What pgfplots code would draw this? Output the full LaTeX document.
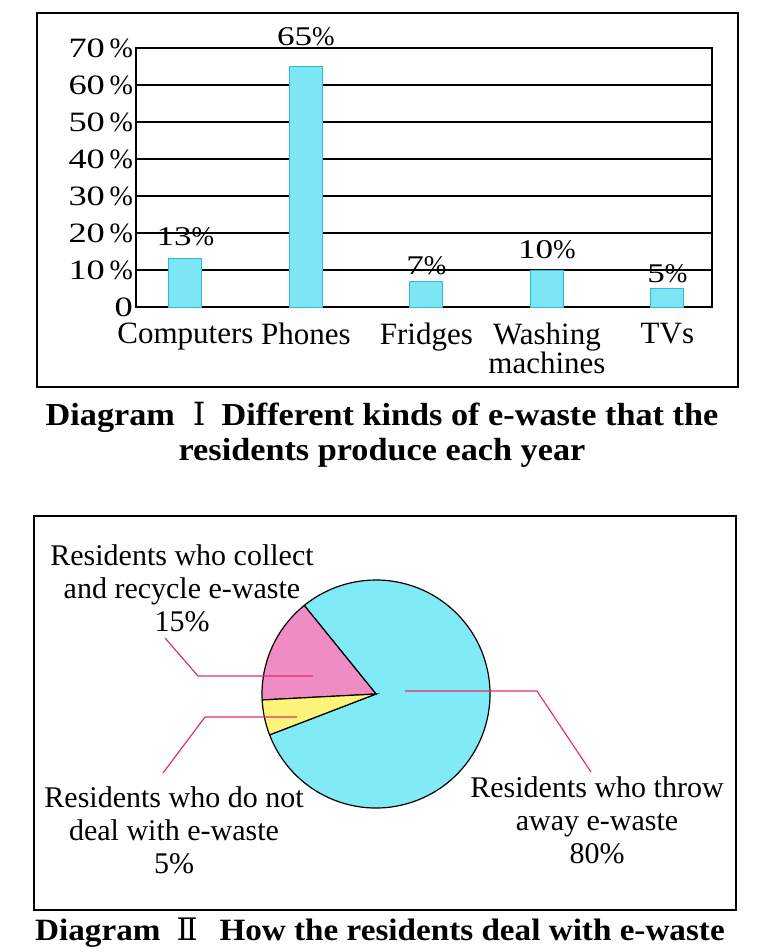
\documentclass[border=0pt]{standalone}
\usepackage{pgfplots}
\pgfplotsset{compat=1.18}
\usepackage{pgfplotstable}
\usepackage{fontspec}
\setmainfont{Liberation Serif}
\newfontfamily\widefont{Liberation Serif}[FakeStretch=1.3]
\newfontfamily\capfont{Liberation Serif}[FakeStretch=1.07]
\newfontfamily\romfont{DejaVu Serif}
\newcommand\wdig[1]{{\widefont #1}}

\definecolor{barcyan}{RGB}{125,230,245}
\definecolor{baredge}{RGB}{47,184,218}
\definecolor{piecyan}{RGB}{128,234,246}
\definecolor{piepink}{RGB}{240,140,196}
\definecolor{pieyellow}{RGB}{255,244,122}
\definecolor{leader}{RGB}{224,48,106}

% e-waste kinds, share in %, label offset above bar (pt)
\pgfplotstableread{
x y off
0 13 11
1 65 15
2 7 7.5
3 10 10
4 5 7.5
}\ewaste

% how residents deal with e-waste, %
\def\pCollect{15}
\def\pIgnore{5}
\def\pThrow{80}

\begin{document}
\begin{tikzpicture}
\useasboundingbox (0,0) rectangle (378.5pt,-476pt);

\begin{axis}[
    at={(68pt,-153.5pt)}, anchor=south west,
    scale only axis, width=288pt, height=129.5pt,
    xmin=-0.41, xmax=4.37, ymin=0, ymax=70,
    ytick={0,10,...,70},
    yticklabels={\wdig{0},\wdig{10}\,\%,\wdig{20}\,\%,\wdig{30}\,\%,\wdig{40}\,\%,\wdig{50}\,\%,\wdig{60}\,\%,\wdig{70}\,\%},
    xtick={0,1,2,3,4},
    xticklabels={Computers,Phones,Fridges,{Washing\\machines},TVs},
    xticklabel style={align=center, font=\fontsize{15.5}{14.5}\selectfont, yshift=-8pt, inner ysep=0pt},
    yticklabel style={font=\fontsize{14}{15}\selectfont, xshift=2pt, inner ysep=0pt},
    major tick length=0pt,
    axis line style={black, line width=0.8pt},
    ymajorgrids, grid style={black, line width=0.8pt},
    clip=false,
    ybar, bar width=16.5pt,
    nodes near coords={\wdig{\pgfmathprintnumber[assume math mode=true]{\pgfplotspointmeta}}\%},
    visualization depends on={\thisrow{off} \as \laboff},
    every node near coord/.append style={anchor=center, yshift=\laboff pt, font=\fontsize{13.5}{14}\selectfont, black},
  ]
  \addplot[fill=barcyan, draw=baredge, line width=0.5pt] table[x=x, y=y] {\ewaste};
\end{axis}

\pgfmathsetmacro\aA{129}
\pgfmathsetmacro\aB{\aA+3.6*\pCollect}
\pgfmathsetmacro\aC{\aB+3.6*\pIgnore}
\pgfmathsetmacro\aD{\aC+3.6*\pThrow}

\begin{axis}[
    at={(188pt,-347pt)}, anchor=center,
    x=57pt, y=57pt, xmin=-1, xmax=1, ymin=-1, ymax=1,
    hide axis, clip=false,
  ]
  \filldraw[fill=piecyan, draw=black, line width=0.6pt] (axis cs:0,0) -- ++(\aC:57pt) arc[start angle=\aC, end angle=\aD, radius=57pt] -- cycle;
  \filldraw[fill=piepink, draw=black, line width=0.6pt] (axis cs:0,0) -- ++(\aA:57pt) arc[start angle=\aA, end angle=\aB, radius=57pt] -- cycle;
  \filldraw[fill=pieyellow, draw=black, line width=0.6pt] (axis cs:0,0) -- ++(\aB:57pt) arc[start angle=\aB, end angle=\aC, radius=57pt] -- cycle;
\end{axis}

\begin{scope}[x=0.5pt, y=-0.5pt]
  % frames
  \draw[line width=0.9pt] (37,13) rectangle (738,387);
  \draw[line width=0.9pt] (34,516) rectangle (736,910);
  % leader lines
  \draw[leader, line width=0.6pt] (313,676) -- (198,676) -- (165,638);
  \draw[leader, line width=0.6pt] (297,717) -- (205,717) -- (163,773);
  \draw[leader, line width=0.6pt] (405,691) -- (537,691) -- (591,772);
  % pie labels (anchored at the baseline of the last line)
  \begin{scope}[every node/.style={align=center, font=\fontsize{15}{16.5}\selectfont, inner sep=0pt}]
    \node[anchor=base] at (182,631) {Residents who collect\\and recycle e-waste\\15\%};
    \node[anchor=base] at (174,873) {Residents who do not\\deal with e-waste\\5\%};
    \node[anchor=base] at (597,863) {Residents who throw\\away e-waste\\80\%};
  \end{scope}
  % captions
  \begin{scope}[every node/.style={inner sep=0pt, font=\fontsize{16}{18}\selectfont\capfont\bfseries}]
    \node[anchor=base] at (382,425) {Diagram\hspace{9pt}{\romfont\mdseries Ⅰ}\hspace{8pt}Different kinds of e-waste that the};
    \node[anchor=base] at (382,460) {residents produce each year};
    \node[anchor=base, font=\fontsize{15.5}{18}\selectfont\capfont\bfseries] at (380,940) {Diagram\hspace{8pt}{\romfont\mdseries Ⅱ}\hspace{11pt}How the residents deal with e-waste};
  \end{scope}
\end{scope}
\end{tikzpicture}
\end{document}
